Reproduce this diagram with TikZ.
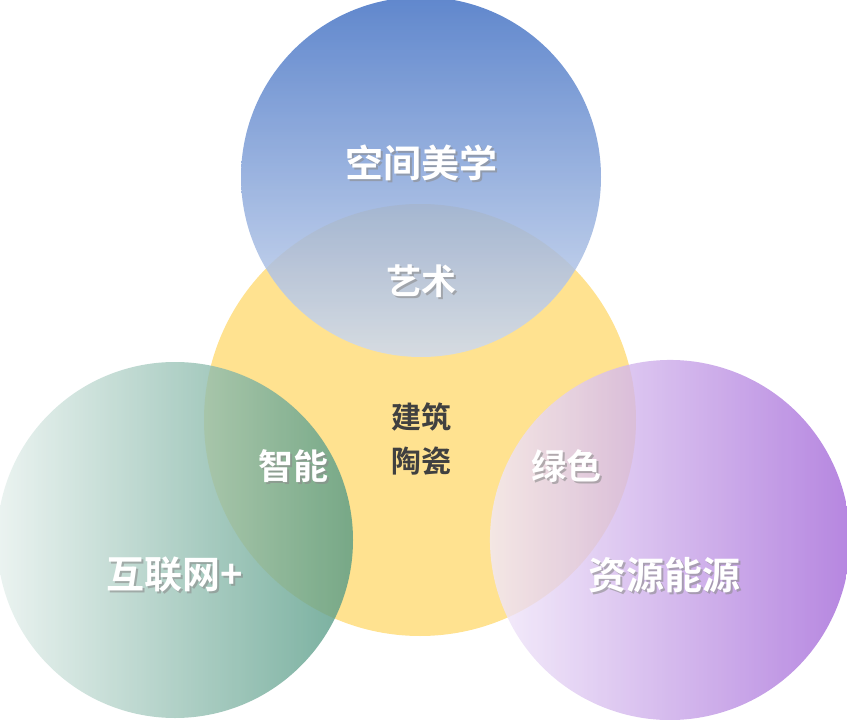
\documentclass[tikz,border=0pt]{standalone}
\usepackage{fontspec}
\newfontfamily\cjk{Noto Sans CJK SC}[BoldFont={Noto Sans CJK SC Bold}]
\definecolor{yel}{HTML}{FFE08A}
\definecolor{blu}{HTML}{4472C4}
\definecolor{grn}{HTML}{4E9680}
\definecolor{pur}{HTML}{9E5FD6}
\tikzset{txt/.style={text=white,font=\cjk\bfseries\fontsize{38}{44}\selectfont},
 lab/.style={txt},
 sub/.style={txt,font=\cjk\bfseries\fontsize{35}{40}\selectfont},
 mid/.style={text=black!75,font=\cjk\bfseries\fontsize{30}{38}\selectfont,align=center}}
\newcommand{\shtext}[5]{\node[#1,text=black!45,opacity=0.6] at (#3+2,#4+2) {#5};\node[#1] (#2) at (#3,#4) {#5};}
\begin{document}
\begin{tikzpicture}[x=1pt,y=-1pt]
\useasboundingbox (0,0) rectangle (847,720);
\fill[yel,opacity=0.95] (420,420) circle (216);
\shade[top color=blu,bottom color=blu!25,opacity=0.85] (421,177) circle (180);
\shade[left color=grn!10,right color=grn,opacity=0.8,rotate around={-135:(175,540)}] (175,540) circle (178);
\shade[left color=pur!8, right color=pur, opacity=0.8,rotate around={-25:(670,540)}] (670,540) circle (180);
\shtext{lab}{a}{421}{163}{空间美学}
\shtext{lab}{b}{175}{575}{互联网+}
\shtext{lab}{c}{664}{575}{资源能源}
\shtext{sub}{d}{421}{281}{艺术}
\shtext{sub}{e}{293}{466}{智能}
\shtext{sub}{f}{566}{466}{绿色}
\node[mid] (g) at (421,439) {建筑\\[6pt]陶瓷};
\end{tikzpicture}
\end{document}
